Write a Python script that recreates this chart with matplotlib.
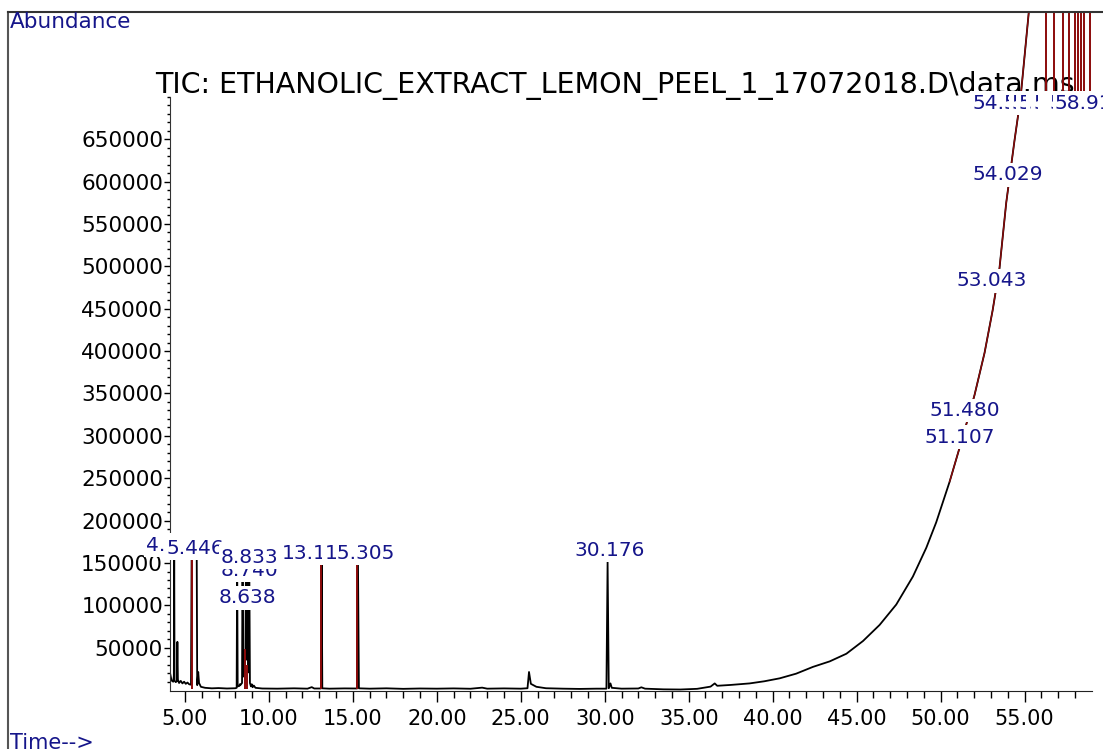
import matplotlib
matplotlib.use("Agg")
import matplotlib.pyplot as plt
from matplotlib.lines import Line2D
from matplotlib.ticker import FixedLocator

# TIC trace (min, abundance)
times = [4.11, 4.20, 4.30, 4.34, 4.36, 4.38, 4.45, 4.52, 4.55, 4.58, 4.65, 4.75, 4.85,
         4.95, 5.05, 5.15, 5.25, 5.36, 5.40, 5.55, 5.70, 5.73, 5.79, 5.84, 5.95, 6.2,
         6.6, 7.0, 7.5, 8.0, 8.08, 8.11, 8.14, 8.24, 8.27, 8.30, 8.40, 8.43, 8.47,
         8.55, 8.60, 8.638, 8.68, 8.74, 8.78, 8.83, 8.87, 8.93, 8.98, 9.03, 9.10,
         9.20, 9.6, 10.5, 11.5, 12.3, 12.55, 12.7, 13.10, 13.14, 13.18, 13.6, 14.5,
         15.25, 15.30, 15.36, 16.0, 17.0, 18.0, 19.0, 20.0, 21.0, 22.0, 22.7, 23.0,
         24.0, 25.0, 25.40, 25.49, 25.60, 25.93, 26.5, 27.5, 28.5, 29.5, 30.10, 30.17,
         30.24, 30.34, 30.42, 31.0, 32.0, 32.18, 32.4, 33.5, 34.5, 35.5, 36.3, 36.55,
         36.7, 37.5, 38.63, 39.5, 40.42, 41.4, 42.40, 43.4, 44.39, 45.38, 46.37,
         47.36, 48.35, 49.15, 49.74, 50.54, 51.31, 52.02, 52.62, 53.10, 53.51, 53.91,
         54.40, 54.76, 55.24, 55.5, 59.0]
abund = [20500, 11500, 10000, 16500, 172000, 11500, 9500, 10500, 57000, 12500, 8500,
         11000, 8000, 10000, 7500, 9000, 7000, 6500, 168000, 175000, 165000, 6000,
         21500, 8500, 4000, 2800, 2200, 2500, 2000, 2300, 2800, 160000, 4500, 5000,
         7000, 6000, 8500, 160000, 16000, 26000, 42000, 162000, 36000, 158000, 21000,
         160000, 8500, 4500, 7000, 3500, 5500, 2800, 2000, 1800, 2200, 1800, 3600,
         2000, 2000, 165000, 2200, 1800, 2100, 2000, 165000, 2200, 1800, 2200, 1600,
         2000, 1800, 2100, 1700, 3000, 1800, 2100, 1800, 2300, 21500, 7500, 4000,
         2300, 1800, 1500, 1800, 1800, 151500, 2300, 8000, 2800, 1800, 2000, 3400,
         1800, 1000, 800, 1600, 4200, 8000, 5200, 6200, 8000, 10500, 14000, 19500,
         27500, 34000, 43000, 58000, 77000, 101000, 134000, 168000, 198000, 246000,
         298000, 348000, 398000, 448000, 498000, 575000, 648000, 698000, 797000,
         850000, 900000]

# integration marks (dark red)
red_t = [5.40, 8.60, 8.67, 13.12, 15.27]
red_top = [168000, 48000, 30000, 165000, 165000]
offscale_t = [56.29, 56.75, 57.32, 57.64, 58.02, 58.17, 58.38, 58.57, 58.91]

# peak labels: text, centre (min), height
lab_text = ["4.361", "5.446", "8.740", "8.833", "8.638", "13.126", "15.305", "30.176",
            "51.107", "51.480", "53.043", "54.029",
            "54.560", "56.291", "56.748", "57.318", "57.642", "58.021", "58.172",
            "58.380", "58.572", "58.912"]
lab_t = [4.40, 5.60, 8.87, 8.87, 8.75, 12.85, 15.42, 30.30,
         51.13, 51.43, 53.04, 54.00,
         53.99, 56.29, 56.75, 57.32, 57.64, 58.02, 58.17, 58.38, 58.57, 58.91]
lab_y = [171000, 167700, 141700, 157000, 109000, 161800, 161800, 165300,
         298500, 330000, 483000, 608000] + [692300] * 10

navy = "#15158a"
dred = "#8b0a0a"
plt.rcParams["font.family"] = ["DejaVu Sans"]

fig = plt.figure(figsize=(11.03, 7.49), dpi=100)
W, H = 1103, 749
ax = fig.add_axes([170 / W, 1 - 690.7 / H, (1091.7 - 170) / W, (690.7 - 12) / H])
ax.set_xlim(4.11, 59.0)
ax.set_ylim(-600, 800000)

ax.plot(times, abund, color="black", lw=1.3, zorder=2)
rise = [i for i, t in enumerate(times) if t >= 50.5]
ax.plot([times[i] for i in rise], [abund[i] for i in rise], color=dred, lw=1.0, zorder=2.1)
ax.vlines(red_t, 1500, red_top, color=dred, lw=1.4, zorder=2.1)
ax.vlines(offscale_t, 700000, 800000, color=dred, lw=1.4, zorder=2.1)

for k, (s, t, y) in enumerate(zip(lab_text, lab_t, lab_y)):
    ax.text(t, y, s, ha="center", va="center", fontsize=14.5, color=navy,
            zorder=3 + k * 0.01, clip_on=False,
            bbox=dict(boxstyle="square,pad=0.12", fc="white", ec="none"))

ax.text(155 / W, 1 - 93 / H, "TIC: ETHANOLIC_EXTRACT_LEMON_PEEL_1_17072018.D\\data.ms",
        transform=fig.transFigure, fontsize=20.5, color="black", va="baseline",
        ha="left", zorder=1, clip_on=False)

# axes styling
for side in ["top", "right"]:
    ax.spines[side].set_visible(False)
ax.spines["left"].set_bounds(-600, 700000)
ax.spines["left"].set_color("#333333")
ax.spines["bottom"].set_color("#222222")
ax.set_xticks(list(range(5, 56, 5)))
ax.set_xticklabels(["%.2f" % v for v in range(5, 56, 5)])
ax.xaxis.set_minor_locator(FixedLocator(list(range(6, 59))))
ax.set_yticks(list(range(50000, 650001, 50000)))
ax.set_yticklabels([str(v) for v in range(50000, 650001, 50000)])
ax.yaxis.set_minor_locator(FixedLocator(list(range(10000, 700001, 10000))))
ax.tick_params(axis="x", which="major", direction="out", length=8, width=1, pad=5, labelsize=15)
ax.tick_params(axis="x", which="minor", direction="out", length=5, width=1)
ax.tick_params(axis="y", which="major", direction="out", length=4, width=1, pad=1, labelsize=15.5)
ax.tick_params(axis="y", which="minor", direction="out", length=2, width=1)

# outer frame
fig.add_artist(Line2D([8 / W, 8 / W], [0, 1 - 12 / H], color="#555555", lw=1.5))
fig.add_artist(Line2D([8 / W, 1], [1 - 12 / H, 1 - 12 / H], color="#333333", lw=1.5))

fig.text(10 / W, 1 - 22 / H, "Abundance", fontsize=15.5, color=navy, va="center", ha="left")
fig.text(10 / W, 1 - 743 / H, "Time-->", fontsize=15, color=navy, va="center", ha="left")

fig.savefig("out.png", dpi=100)
